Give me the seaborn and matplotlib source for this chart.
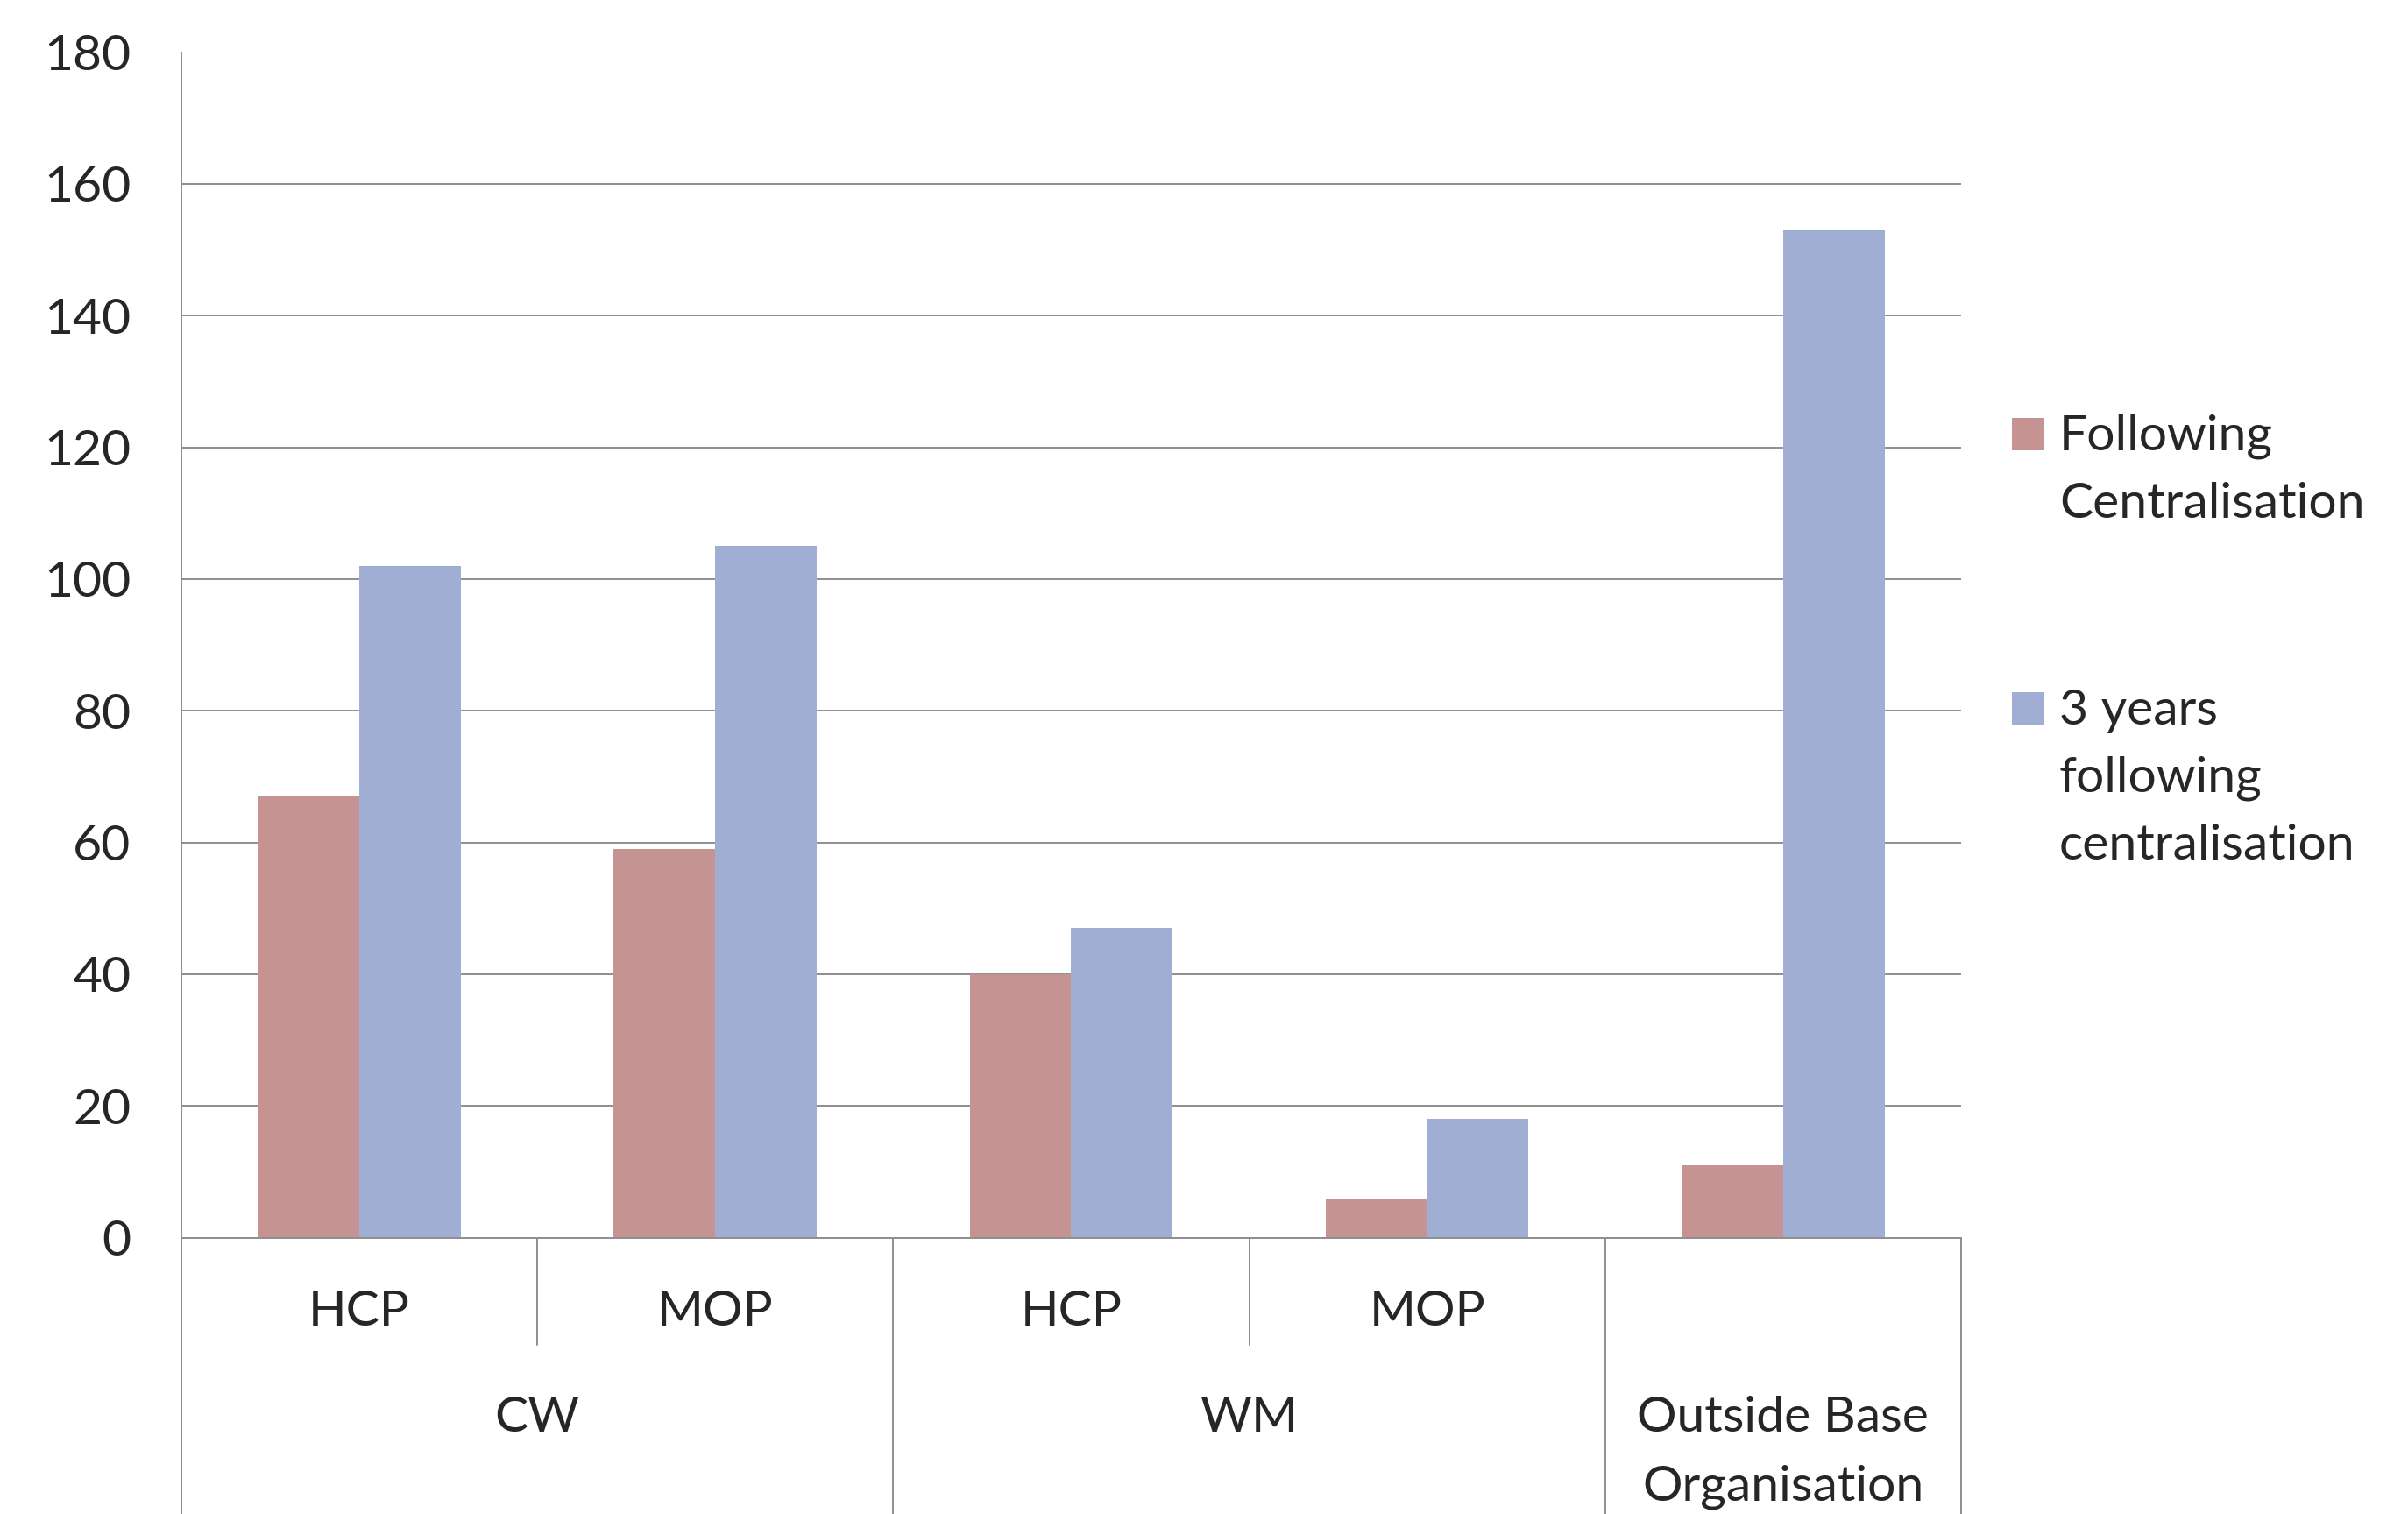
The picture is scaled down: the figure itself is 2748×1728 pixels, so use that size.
import numpy as np
import pandas as pd
import seaborn as sns
import matplotlib.pyplot as plt
from matplotlib.transforms import blended_transform_factory
from matplotlib.patches import Rectangle

# chart values
groups = ["CW", "CW", "WM", "WM", "Outside Base\nOrganisation"]
subgroups = ["HCP", "MOP", "HCP", "MOP", ""]
series = ["Following\nCentralisation", "3 years\nfollowing\ncentralisation"]
following = [67, 59, 40, 6, 11]
three_years = [102, 105, 47, 18, 153]
yticks = list(range(0, 181, 20))

colors = ["#C49392", "#A0AED3"]
grid_col = "#8E8E8E"
fs = 41

slots = [f"{g}|{s}" for g, s in zip(groups, subgroups)]
df = pd.DataFrame({
    "slot": slots * 2,
    "series": [series[0]] * len(slots) + [series[1]] * len(slots),
    "value": following + three_years,
})

sns.set_style("white")
plt.rcParams['font.family'] = ['Lato', 'DejaVu Sans']

fig = plt.figure(figsize=(27.48, 17.28), dpi=100)
ax = fig.add_axes([0.0753, 0.1825, 0.8144 - 0.0753, 0.9655 - 0.1825])

sns.barplot(data=df, x="slot", y="value", hue="series", order=slots,
            hue_order=series, palette=colors, width=0.57, linewidth=0,
            saturation=1, legend=False, ax=ax)

ax.set_xlim(-0.5, len(slots) - 0.5)
ax.set_ylim(0, 180)
ax.set_yticks(yticks)
ax.set_xticks([])
ax.set_xlabel("")
ax.set_ylabel("")
ax.yaxis.grid(True, color=grid_col, lw=1.4)
ax.set_axisbelow(True)
ax.tick_params(axis="y", direction="out", length=12.6, width=1.4,
               color=grid_col, labelsize=fs, pad=29)
for s in ["top", "right"]:
    ax.spines[s].set_visible(False)
for s in ["left", "bottom"]:
    ax.spines[s].set_color(grid_col)
    ax.spines[s].set_linewidth(1.4)

trans = blended_transform_factory(ax.transData, ax.transAxes)

# sub-category labels
for i, sub in enumerate(subgroups):
    ax.text(i, -0.063, sub, transform=trans, ha="center", va="center", fontsize=fs)

# group labels
line_step = 0.0583
start = 0
for i in range(1, len(groups) + 1):
    if i == len(groups) or groups[i] != groups[start]:
        center = (start + i - 1) / 2
        for k, line in enumerate(groups[start].split("\n")):
            ax.text(center, -0.152 - k * line_step, line, transform=trans,
                    ha="center", va="center", fontsize=fs)
        start = i

# separators in the category area
for b in range(len(groups) + 1):
    x = b - 0.5
    if b == 0 or b == len(groups) or groups[b] != groups[b - 1]:
        y_end = -0.26
    else:
        y_end = -0.0905
    ax.plot([x, x], [0, y_end], transform=trans, clip_on=False,
            color=grid_col, lw=1.4)

# legend
H, W = 1728, 2748
legend_base = [514, 827]
line_px = 77
for j, (name, col) in enumerate(zip(series, colors)):
    base = legend_base[j]
    fig.patches.append(Rectangle((2296 / W, 1 - base / H), 37 / W, 37 / H,
                                 transform=fig.transFigure, color=col, lw=0))
    for k, line in enumerate(name.split("\n")):
        fig.text(2350 / W, 1 - (base + k * line_px) / H, line,
                 fontsize=fs, va="baseline", ha="left")

fig.savefig("out.png", dpi=100)
